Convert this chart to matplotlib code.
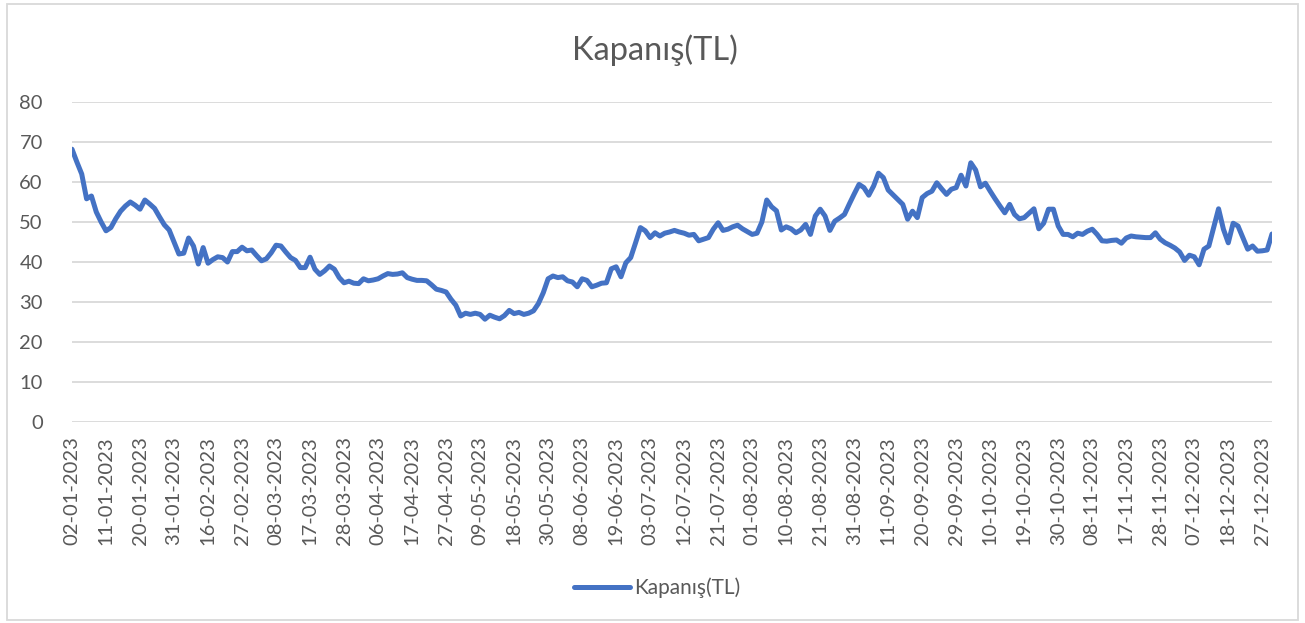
import pandas as pd
import matplotlib
matplotlib.use('Agg')
import matplotlib.pyplot as plt
from matplotlib.patches import Rectangle

plt.rcParams['font.family'] = ['Lato', 'DejaVu Sans']

# Borsa günleri 2023 (tatiller ve deprem kapanışı hariç)
tatiller = ['2023-02-08', '2023-02-09', '2023-02-10', '2023-02-13', '2023-02-14',
            '2023-04-21', '2023-05-01', '2023-05-19',
            '2023-06-28', '2023-06-29', '2023-06-30', '2023-08-30']
tarihler = pd.bdate_range('2023-01-02', '2023-12-29', freq='C', holidays=tatiller)
etiketler = tarihler.strftime('%d-%m-%Y')

# Kapanış fiyatları (TL)
kapanis = [
    68.2, 65.0, 62.0, 55.8, 56.5, 52.5, 50.0, 47.8, 48.6, 50.8,
    52.7, 54.0, 55.0, 54.2, 53.2, 55.5, 54.5, 53.4, 51.3, 49.3,
    48.0, 45.0, 42.0, 42.2, 46.0, 44.0, 39.5, 43.6, 39.7, 40.6,
    41.3, 41.1, 40.0, 42.6, 42.6, 43.7, 42.8, 43.0, 41.6, 40.3,
    40.8, 42.3, 44.2, 44.0, 42.5, 41.1, 40.4, 38.6, 38.6, 41.2,
    38.2, 36.9, 37.8, 39.0, 38.2, 36.1, 34.8, 35.2, 34.7, 34.6,
    35.8, 35.3, 35.5, 35.8, 36.5, 37.1, 36.9, 37.0, 37.3, 36.1,
    35.7, 35.4, 35.4, 35.3, 34.3, 33.2, 32.9, 32.5, 30.7, 29.2,
    26.5, 27.2, 26.9, 27.2, 26.9, 25.7, 26.7, 26.2, 25.8, 26.6,
    27.9, 27.1, 27.4, 26.9, 27.2, 27.8, 29.6, 32.3, 35.8, 36.5,
    36.1, 36.3, 35.3, 35.0, 33.8, 35.8, 35.4, 33.8, 34.2, 34.7,
    34.8, 38.3, 38.8, 36.3, 39.8, 41.1, 44.8, 48.6, 47.8, 46.1,
    47.3, 46.5, 47.2, 47.5, 47.9, 47.5, 47.2, 46.7, 46.9, 45.3,
    45.7, 46.1, 48.2, 49.8, 47.9, 48.2, 48.8, 49.2, 48.3, 47.6,
    46.9, 47.2, 50.0, 55.5, 53.8, 52.8, 48.0, 48.8, 48.3, 47.3,
    48.0, 49.4, 46.9, 51.5, 53.2, 51.5, 47.9, 50.2, 51.0, 51.9,
    54.5, 57.0, 59.4, 58.6, 56.7, 59.0, 62.2, 61.1, 58.0, 56.8,
    55.6, 54.4, 50.7, 52.7, 51.1, 56.1, 57.1, 57.7, 59.8, 58.3,
    56.9, 58.2, 58.6, 61.7, 59.0, 64.8, 63.0, 58.8, 59.7, 57.7,
    55.8, 54.0, 52.3, 54.4, 51.9, 50.8, 51.1, 52.2, 53.3, 48.3,
    49.7, 53.2, 53.2, 49.0, 46.9, 46.9, 46.3, 47.2, 46.9, 47.7,
    48.2, 46.9, 45.3, 45.2, 45.4, 45.5, 44.7, 46.0, 46.5, 46.3,
    46.2, 46.1, 46.1, 47.3, 45.7, 44.8, 44.2, 43.5, 42.5, 40.4,
    41.7, 41.3, 39.3, 43.2, 44.0, 48.6, 53.3, 48.2, 44.8, 49.7,
    49.0, 46.1, 43.2, 44.0, 42.7, 42.8, 43.0, 47.0,
]

gri = '#595959'
W, H = 1305, 623

fig = plt.figure(figsize=(W / 100, H / 100), dpi=100)
ax = fig.add_axes([72 / W, 1 - 422 / H, 1200 / W, 320 / H])

x = range(len(kapanis))
ax.plot(x, kapanis, color='#4472C4', lw=3.6, solid_joinstyle='round',
        solid_capstyle='round', label='Kapanış(TL)')

ax.set_xlim(0, len(kapanis) - 1)
ax.set_ylim(0, 80)
ax.set_yticks(range(0, 81, 10))
ax.set_xticks(range(0, len(kapanis), 7))
ax.set_xticklabels(etiketler[::7], rotation=90)

ax.grid(axis='y', color='#D9D9D9', lw=1.3)
ax.set_axisbelow(True)
for s in ax.spines.values():
    s.set_visible(False)
ax.tick_params(length=0, colors=gri, labelsize=14.5)
ax.tick_params(axis='y', pad=21)
ax.tick_params(axis='x', pad=10)

fig.text(655 / W, 1 - 50 / H, 'Kapanış(TL)', ha='center', va='center',
         fontsize=23.5, color=gri)
fig.legend(loc='center', bbox_to_anchor=(657 / W, 1 - 588 / H), frameon=False,
           fontsize=15, handlelength=2.7, handletextpad=0.2, labelcolor=gri)

# Dış çerçeve
fig.patches.append(Rectangle((7 / W, 3 / H), (1298 - 7) / W, (619 - 3) / H,
                             transform=fig.transFigure, fill=False,
                             ec='#D9D9D9', lw=1.3))

fig.savefig('out.png', dpi=100)
